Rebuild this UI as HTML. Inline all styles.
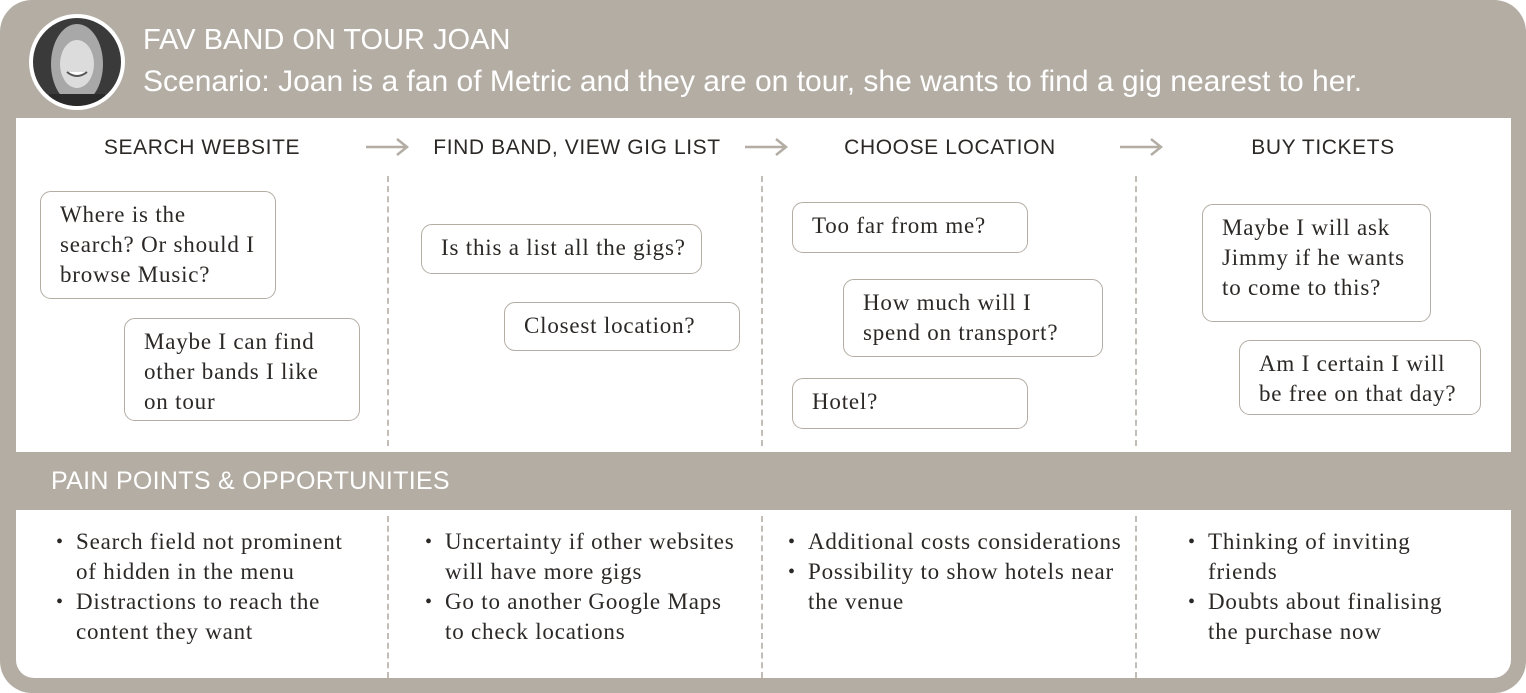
<!DOCTYPE html>
<html><head><meta charset="utf-8"><style>
body{margin:0;width:1526px;height:693px;background:#fff;overflow:hidden;position:relative;font-family:"Liberation Serif",serif;}
.outer{position:absolute;left:0;top:0;width:1526px;height:693px;background:#b3ada4;border-radius:32px;}
.panel{position:absolute;background:#fff;}
.h{position:absolute;font-family:"Liberation Sans",sans-serif;color:#fff;white-space:nowrap;}
.col{position:absolute;top:136px;font-family:"Liberation Sans",sans-serif;font-size:21px;color:#2b2826;letter-spacing:0.6px;text-align:center;white-space:nowrap;transform:translateX(-50%);}
.b{position:absolute;border:1.5px solid #b3ada4;border-radius:11px;box-sizing:border-box;padding:8px 0 0 19px;font-size:23px;letter-spacing:0.8px;line-height:30px;color:#2b2826;white-space:nowrap;}
.d{position:absolute;border-left:2px dashed #c2bdb6;width:0;}
.arr{position:absolute;top:137px;}
ul{position:absolute;margin:0;padding:0;list-style:none;top:527px;font-size:23px;letter-spacing:0.8px;line-height:30px;color:#2b2826;white-space:nowrap;}
li{position:relative;padding-left:20px;}
li:before{content:"•";position:absolute;left:0;font-size:20px;}
</style></head><body>
<div class="outer"></div>
<div class="panel" style="left:16px;top:118px;width:1495px;height:334px;"></div>
<div class="panel" style="left:16px;top:510px;width:1495px;height:168px;border-radius:0 0 18px 18px;"></div>
<svg style="position:absolute;left:29px;top:14px" width="96" height="96">
<defs><clipPath id="c"><circle cx="48" cy="48" r="44"/></clipPath></defs>
<circle cx="48" cy="48" r="48" fill="#fff"/>
<g clip-path="url(#c)">
<rect width="96" height="96" fill="#3a3a3a"/>
<ellipse cx="48" cy="50" rx="26" ry="40" fill="#a8a8a8"/>
<ellipse cx="48" cy="50" rx="17" ry="24" fill="#dcdcdc"/>
<path d="M38 58 Q48 66 58 58" stroke="#555" stroke-width="2" fill="#fff"/>
<rect x="20" y="80" width="56" height="20" fill="#2a2a2a"/>
</g></svg>
<div class="h" style="left:143px;top:24px;font-size:29px;">FAV BAND ON TOUR JOAN</div>
<div class="h" style="left:143px;top:65px;font-size:30px;">Scenario: Joan is a fan of Metric and they are on tour, she wants to find a gig nearest to her.</div>
<div class="col" style="left:202px">SEARCH WEBSITE</div>
<div class="col" style="left:577px">FIND BAND, VIEW GIG LIST</div>
<div class="col" style="left:950px">CHOOSE LOCATION</div>
<div class="col" style="left:1323px">BUY TICKETS</div>
<svg class="arr" style="left:364px" width="46" height="20"><path d="M2 10H42M33 2L43 10L33 18" stroke="#b3ada4" stroke-width="2.5" fill="none"/></svg>
<svg class="arr" style="left:743px" width="46" height="20"><path d="M2 10H42M33 2L43 10L33 18" stroke="#b3ada4" stroke-width="2.5" fill="none"/></svg>
<svg class="arr" style="left:1118px" width="46" height="20"><path d="M2 10H42M33 2L43 10L33 18" stroke="#b3ada4" stroke-width="2.5" fill="none"/></svg>
<div class="d" style="left:387px;top:176px;height:270px"></div>
<div class="d" style="left:761px;top:176px;height:270px"></div>
<div class="d" style="left:1135px;top:176px;height:270px"></div>
<div class="d" style="left:387px;top:516px;height:162px"></div>
<div class="d" style="left:761px;top:516px;height:162px"></div>
<div class="d" style="left:1135px;top:516px;height:162px"></div>
<div class="b" style="left:40px;top:191px;width:236px;height:108px;">Where is the<br>search? Or should I<br>browse Music?</div>
<div class="b" style="left:124px;top:318px;width:236px;height:103px;">Maybe I can find<br>other bands I like<br>on tour</div>
<div class="b" style="left:421px;top:224px;width:281px;height:50px;">Is this a list all the gigs?</div>
<div class="b" style="left:504px;top:302px;width:236px;height:49px;">Closest location?</div>
<div class="b" style="left:792px;top:202px;width:236px;height:51px;">Too far from me?</div>
<div class="b" style="left:843px;top:279px;width:260px;height:78px;">How much will I<br>spend on transport?</div>
<div class="b" style="left:792px;top:378px;width:236px;height:51px;">Hotel?</div>
<div class="b" style="left:1202px;top:204px;width:229px;height:118px;">Maybe I will ask<br>Jimmy if he wants<br>to come to this?</div>
<div class="b" style="left:1239px;top:340px;width:242px;height:75px;">Am I certain I will<br>be free on that day?</div>
<div class="h" style="left:51px;top:467px;font-size:25px;letter-spacing:0.3px;">PAIN POINTS &amp; OPPORTUNITIES</div>
<ul style="left:56px"><li>Search field not prominent<br>of hidden in the menu</li><li>Distractions to reach the<br>content they want</li></ul>
<ul style="left:425px"><li>Uncertainty if other websites<br>will have more gigs</li><li>Go to another Google Maps<br>to check locations</li></ul>
<ul style="left:788px"><li>Additional costs considerations</li><li>Possibility to show hotels near<br>the venue</li></ul>
<ul style="left:1188px"><li>Thinking of inviting<br>friends</li><li>Doubts about finalising<br>the purchase now</li></ul>
</body></html>
